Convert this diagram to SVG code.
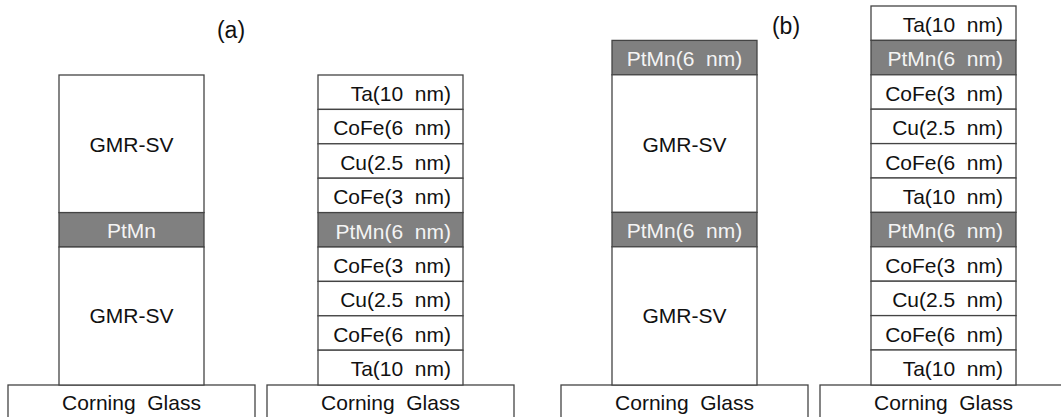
<svg xmlns="http://www.w3.org/2000/svg" width="1061" height="417" viewBox="0 0 1061 417" xml:space="preserve">
<style>
.l{fill:#fff;stroke:#444;stroke-width:1.3}
.p{fill:#808080;stroke:#444;stroke-width:1.3}
text{font-family:"Liberation Sans",Arial,sans-serif;font-size:21px;fill:#111;white-space:pre}
.c{text-anchor:middle}
.r{text-anchor:end}
.w{fill:#f4f4f4}
.lab{font-size:23px}
</style>
<rect width="1061" height="417" fill="#fff"/>
<g id="labels">
<text class="c lab" x="231" y="38">(a)</text>
<text class="c lab" x="786" y="34">(b)</text>
</g>
<g id="glass">
<rect class="l" x="8" y="385" width="247" height="40"/>
<text class="c" x="131.5" y="410">Corning  Glass</text>
<rect class="l" x="267" y="385" width="247" height="40"/>
<text class="c" x="390.5" y="410">Corning  Glass</text>
<rect class="l" x="561" y="385" width="247" height="40"/>
<text class="c" x="684.5" y="410">Corning  Glass</text>
<rect class="l" x="820" y="385" width="247" height="40"/>
<text class="c" x="943.5" y="410">Corning  Glass</text>
</g>
<g id="stackA1">
<rect class="l" x="59" y="75" width="145" height="137.6"/>
<text class="c" x="131.5" y="151.5">GMR-SV</text>
<rect class="p" x="59" y="212.6" width="145" height="34.4"/>
<text class="c w" x="131.5" y="238">PtMn</text>
<rect class="l" x="59" y="247" width="145" height="138"/>
<text class="c" x="131.5" y="323">GMR-SV</text>
</g>
<g id="stackA2">
<rect class="l" x="318" y="75" width="145" height="34.4"/>
<text class="r" x="451" y="101">Ta(10  nm)</text>
<rect class="l" x="318" y="109.4" width="145" height="34.4"/>
<text class="r" x="451" y="135.4">CoFe(6  nm)</text>
<rect class="l" x="318" y="143.8" width="145" height="34.4"/>
<text class="r" x="451" y="169.8">Cu(2.5  nm)</text>
<rect class="l" x="318" y="178.2" width="145" height="34.4"/>
<text class="r" x="451" y="204.2">CoFe(3  nm)</text>
<rect class="p" x="318" y="212.6" width="145" height="34.4"/>
<text class="r w" x="451" y="238.6">PtMn(6  nm)</text>
<rect class="l" x="318" y="247" width="145" height="34.4"/>
<text class="r" x="451" y="273">CoFe(3  nm)</text>
<rect class="l" x="318" y="281.4" width="145" height="34.4"/>
<text class="r" x="451" y="307.4">Cu(2.5  nm)</text>
<rect class="l" x="318" y="315.8" width="145" height="34.4"/>
<text class="r" x="451" y="341.8">CoFe(6  nm)</text>
<rect class="l" x="318" y="350.2" width="145" height="34.8"/>
<text class="r" x="451" y="376.2">Ta(10  nm)</text>
</g>
<g id="stackB1">
<rect class="p" x="612" y="40.4" width="145" height="34.4"/>
<text class="c w" x="684.5" y="66.4">PtMn(6  nm)</text>
<rect class="l" x="612" y="74.8" width="145" height="137.6"/>
<text class="c" x="684.5" y="151.5">GMR-SV</text>
<rect class="p" x="612" y="212.4" width="145" height="34.4"/>
<text class="c w" x="684.5" y="238.4">PtMn(6  nm)</text>
<rect class="l" x="612" y="246.8" width="145" height="138.2"/>
<text class="c" x="684.5" y="323">GMR-SV</text>
</g>
<g id="stackB2">
<rect class="l" x="871" y="6" width="145" height="34.4"/>
<text class="r" x="1003" y="32">Ta(10  nm)</text>
<rect class="p" x="871" y="40.4" width="145" height="34.4"/>
<text class="r w" x="1003" y="66.4">PtMn(6  nm)</text>
<rect class="l" x="871" y="74.8" width="145" height="34.4"/>
<text class="r" x="1003" y="100.8">CoFe(3  nm)</text>
<rect class="l" x="871" y="109.2" width="145" height="34.4"/>
<text class="r" x="1003" y="135.2">Cu(2.5  nm)</text>
<rect class="l" x="871" y="143.6" width="145" height="34.4"/>
<text class="r" x="1003" y="169.6">CoFe(6  nm)</text>
<rect class="l" x="871" y="178" width="145" height="34.4"/>
<text class="r" x="1003" y="204">Ta(10  nm)</text>
<rect class="p" x="871" y="212.4" width="145" height="34.4"/>
<text class="r w" x="1003" y="238.4">PtMn(6  nm)</text>
<rect class="l" x="871" y="246.8" width="145" height="34.4"/>
<text class="r" x="1003" y="272.8">CoFe(3  nm)</text>
<rect class="l" x="871" y="281.2" width="145" height="34.4"/>
<text class="r" x="1003" y="307.2">Cu(2.5  nm)</text>
<rect class="l" x="871" y="315.6" width="145" height="34.4"/>
<text class="r" x="1003" y="341.6">CoFe(6  nm)</text>
<rect class="l" x="871" y="350" width="145" height="35"/>
<text class="r" x="1003" y="376">Ta(10  nm)</text>
</g>
<g id="connectors"></g>
</svg>
